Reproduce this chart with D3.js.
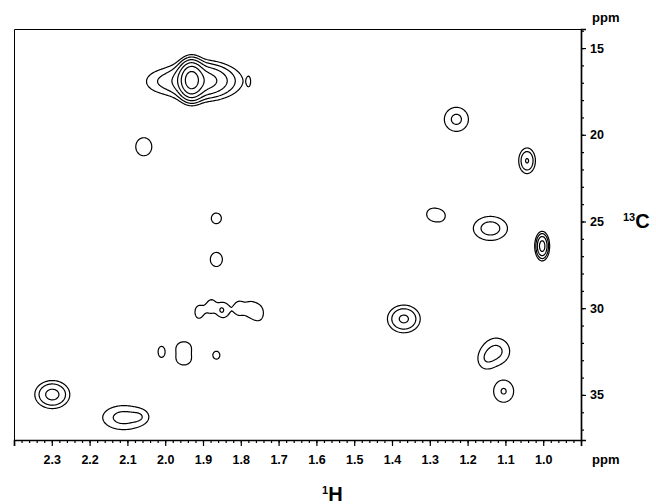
<!DOCTYPE html>
<html>
<head>
<meta charset="utf-8">
<script src="https://cdn.jsdelivr.net/npm/d3@7"></script>
<style>
  html, body { margin: 0; padding: 0; background: #fff; }
  svg { display: block; font-family: "Liberation Sans", Arial, sans-serif; }
</style>
</head>
<body>
<svg id="chart" width="656" height="504"></svg>
<script>
// 1H axis (ppm), major labels and minor ticks
const hTicks = [2.3, 2.2, 2.1, 2.0, 1.9, 1.8, 1.7, 1.6, 1.5, 1.4, 1.3, 1.2, 1.1, 1.0];
const hMinor = d3.range(119, 45, -1).map(d => d / 50);
// 13C axis (ppm)
const cTicks = [15, 20, 25, 30, 35];
const cMinor = d3.range(14, 38);

// cross peaks: [1H ppm, 13C ppm, 1H width, 13C width, intensity]
const peaks = [
  [1.932, 16.81, 0.0159, 0.52, 40],
  [1.905, 16.85, 0.0423, 0.52, 10],
  [1.915, 16.90, 0.079, 0.635, 2],
  [2.014, 16.90, 0.032, 0.46, 1.0],
  [1.780, 16.90, 0.0055, 0.35, 0.7],
  [2.058, 20.66, 0.0235, 0.577, 1.5],
  [1.866, 24.79, 0.0183, 0.42, 1.3],
  [1.866, 27.16, 0.022, 0.56, 1.3],
  [1.913, 30.20, 0.014, 0.50, 1.25],
  [1.879, 29.85, 0.014, 0.50, 1.25],
  [1.844, 30.08, 0.014, 0.50, 1.2],
  [1.807, 29.97, 0.014, 0.50, 1.25],
  [1.776, 30.03, 0.014, 0.50, 1.2],
  [1.752, 30.26, 0.014, 0.50, 1.25],
  [1.853, 30.09, 0.008, 0.23, 1.0],
  [2.012, 32.49, 0.015, 0.55, 1.15],
  [1.952, 32.20, 0.021, 0.35, 1.4],
  [1.952, 32.95, 0.021, 0.35, 1.4],
  [1.866, 32.68, 0.0175, 0.43, 1.15],
  [2.300, 34.95, 0.0257, 0.449, 5.05],
  [2.111, 36.28, 0.0409, 0.509, 2.52],
  [2.066, 36.22, 0.016, 0.29, 0.8],
  [1.231, 19.08, 0.0245, 0.534, 2.32],
  [1.044, 21.47, 0.013, 0.436, 4.2],
  [1.298, 24.55, 0.016, 0.375, 1.2],
  [1.272, 24.65, 0.016, 0.375, 1.2],
  [1.141, 25.37, 0.032, 0.49, 2.7],
  [1.004, 26.39, 0.009, 0.39, 11],
  [1.370, 30.59, 0.025, 0.46, 4.5],
  [1.125, 32.45, 0.027, 0.58, 2.3],
  [1.155, 33.00, 0.018, 0.46, 1.2],
  [1.106, 34.76, 0.0217, 0.52, 2.1]
];
const levels = [1, 2, 4, 8, 16, 32, 64];

const plotL = 14, plotR = 581, plotT = 29, plotB = 440;
const svg = d3.select("#chart");

const x = d3.scaleLinear().domain([2.4, 0.9]).range([plotL, plotR]);
const y = d3.scaleLinear().domain([13.9, 37.6]).range([plotT, plotB]);

// intensity grid, one cell per pixel
const nx = plotR - plotL, ny = plotB - plotT;
const values = new Float64Array(nx * ny);
peaks.forEach(p => {
  const [h0, c0, wh, wc, a] = p;
  const i0 = Math.max(0, Math.floor(x(h0 + 5 * wh) - plotL));
  const i1 = Math.min(nx - 1, Math.ceil(x(h0 - 5 * wh) - plotL));
  const j0 = Math.max(0, Math.floor(y(c0 - 5 * wc) - plotT));
  const j1 = Math.min(ny - 1, Math.ceil(y(c0 + 5 * wc) - plotT));
  for (let j = j0; j <= j1; j++) {
    const dc = (y.invert(j + plotT) - c0) / wc;
    for (let i = i0; i <= i1; i++) {
      const dh = (x.invert(i + plotL) - h0) / wh;
      values[i + j * nx] += a * Math.exp(-0.5 * (dh * dh + dc * dc));
    }
  }
});

const contours = d3.contours().size([nx, ny]).thresholds(levels)(values);

svg.append("g")
  .attr("transform", `translate(${plotL},${plotT})`)
  .selectAll("path")
  .data(contours)
  .enter()
  .append("path")
  .attr("d", d3.geoPath())
  .attr("fill", "none")
  .attr("stroke", "#000")
  .attr("stroke-width", 1.2)
  .attr("stroke-linejoin", "round");

// frame
svg.append("path")
  .attr("d", `M${plotR},${plotT + 0.5}H${plotL + 0.5}V${plotB}`)
  .attr("fill", "none")
  .attr("stroke", "#000")
  .attr("stroke-width", 1);

// bottom axis
svg.append("g")
  .attr("transform", `translate(0,${plotB})`)
  .call(d3.axisBottom(x).tickValues(hTicks).tickSize(6).tickPadding(9)
    .tickFormat(d3.format(".1f")));
svg.append("g")
  .attr("transform", `translate(0,${plotB})`)
  .call(d3.axisBottom(x).tickValues(hMinor).tickSize(3).tickFormat(""))
  .select(".domain").remove();

// right axis
svg.append("g")
  .attr("transform", `translate(${plotR},0)`)
  .call(d3.axisRight(y).tickValues(cTicks).tickSize(5).tickPadding(4));
svg.append("g")
  .attr("transform", `translate(${plotR},0)`)
  .call(d3.axisRight(y).tickValues(cMinor).tickSize(3).tickFormat(""))
  .select(".domain").remove();

svg.selectAll(".domain").attr("stroke-width", 1.7);
svg.selectAll(".tick line").attr("stroke-width", 1.2);
svg.selectAll(".tick text")
  .attr("font-family", "'Liberation Sans', Arial, sans-serif")
  .attr("font-size", 12.5)
  .attr("font-weight", "bold")
  .attr("fill", "#000");

// unit labels
svg.append("text")
  .attr("x", 592).attr("y", 22)
  .attr("font-size", 13).attr("font-weight", "bold")
  .text("ppm");
svg.append("text")
  .attr("x", 592).attr("y", 464)
  .attr("font-size", 13).attr("font-weight", "bold")
  .text("ppm");

// nucleus labels
const cLab = svg.append("text")
  .attr("x", 623).attr("y", 228)
  .attr("font-weight", "bold");
cLab.append("tspan").attr("font-size", 11).attr("dy", -7).text("13");
cLab.append("tspan").attr("font-size", 20).attr("dy", 7).text("C");

const hLab = svg.append("text")
  .attr("x", 322).attr("y", 501)
  .attr("font-weight", "bold");
hLab.append("tspan").attr("font-size", 11).attr("dy", -7).text("1");
hLab.append("tspan").attr("font-size", 20).attr("dy", 7).text("H");
</script>
</body>
</html>
